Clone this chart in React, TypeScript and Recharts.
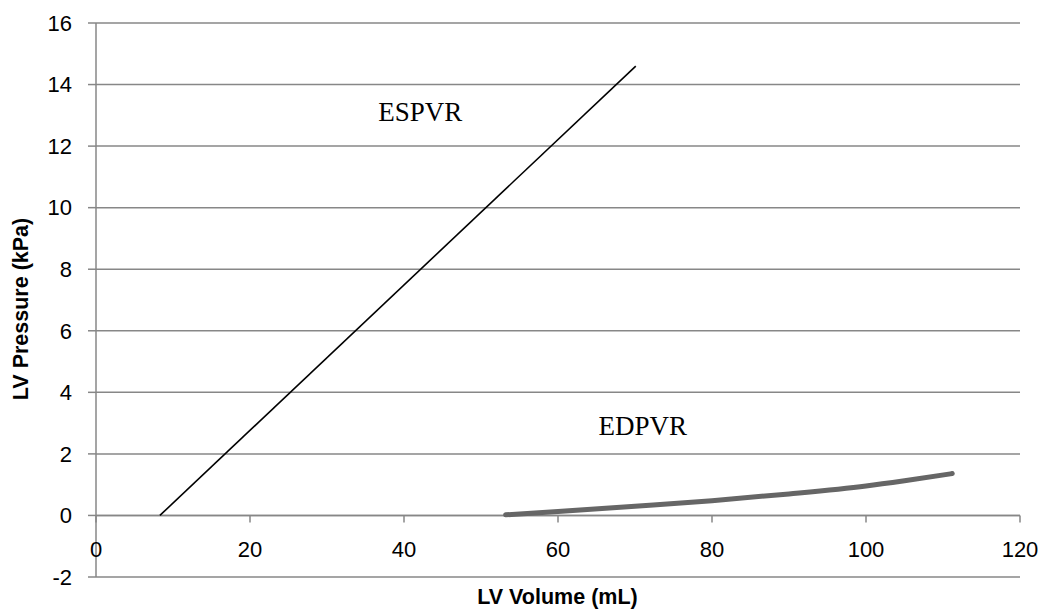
import React from "react";
import {
  LineChart,
  Line,
  XAxis,
  YAxis,
  CartesianGrid,
  ReferenceLine,
  ReferenceDot,
  Label,
} from "recharts";

// values
const volumeTicks = [0, 20, 40, 60, 80, 100, 120];
const pressureTicks = [-2, 0, 2, 4, 6, 8, 10, 12, 14, 16];

const espvrVolume = [8.3, 70.1];
const espvrPressure = [0, 14.6];

const edpvrVolume = [53.2, 60, 70, 80, 90, 100, 105, 111.2];
const edpvrPressure = [0.02, 0.13, 0.3, 0.48, 0.7, 0.96, 1.13, 1.36];

const espvr = espvrVolume.map((v, i) => ({ v, p: espvrPressure[i] }));
const edpvr = edpvrVolume.map((v, i) => ({ v, p: edpvrPressure[i] }));

const W = 1040;
const H = 602;
const MARGIN = { top: 15, right: 28, bottom: 32, left: 0 };
const Y_AXIS_W = 88;
const X_AXIS_H = 1;
const Y_MIN = -2;
const Y_MAX = 16;

const PLOT_H = H - MARGIN.top - MARGIN.bottom - X_AXIS_H;
// distance from the plot bottom (-2) up to the zero line where the x axis crosses
const ZERO_UP = (PLOT_H * (0 - Y_MIN)) / (Y_MAX - Y_MIN);

const GRID = "#878787";
const TICK_FONT = "'Liberation Sans', Arial, sans-serif";

function VolumeTick(props: any) {
  const { x, y, payload } = props;
  const y0 = y - ZERO_UP;
  return (
    <g>
      <line x1={x} x2={x} y1={y0} y2={y0 + 7} stroke={GRID} strokeWidth={1.5} />
      <text
        x={x}
        y={y0 + 34}
        textAnchor="middle"
        dominantBaseline="central"
        fontFamily={TICK_FONT}
        fontSize={22}
        fill="#000"
      >
        {payload.value}
      </text>
    </g>
  );
}

function XTitle(props: any) {
  const { viewBox } = props;
  return (
    <text
      x={viewBox.x + viewBox.width / 2 - 0.5}
      y={viewBox.y + 20}
      textAnchor="middle"
      dominantBaseline="central"
      fontFamily={TICK_FONT}
      fontWeight="bold"
      fontSize={21.5}
      fill="#000"
    >
      LV Volume (mL)
    </text>
  );
}

function YTitle(props: any) {
  const { viewBox } = props;
  const cx = 12.5;
  const cy = viewBox.y + viewBox.height / 2 + 9;
  return (
    <text
      x={cx}
      y={cy}
      transform={`rotate(-90 ${cx} ${cy})`}
      textAnchor="middle"
      dominantBaseline="central"
      fontFamily={TICK_FONT}
      fontWeight="bold"
      fontSize={21.5}
      fill="#000"
    >
      LV Pressure (kPa)
    </text>
  );
}

function SeriesLabel(props: any) {
  const { viewBox, text } = props;
  return (
    <text
      x={viewBox.x}
      y={viewBox.y}
      textAnchor="middle"
      dominantBaseline="central"
      fontFamily="'Liberation Serif', 'DejaVu Serif', serif"
      fontSize={27}
      fill="#000"
    >
      {text}
    </text>
  );
}

export default function App() {
  return (
    <div style={{ width: W, height: H }}>
      <LineChart width={W} height={H} margin={MARGIN}>
        <CartesianGrid vertical={false} stroke={GRID} strokeWidth={1.5} />
        <XAxis
          type="number"
          dataKey="v"
          domain={[0, 120]}
          ticks={volumeTicks}
          height={X_AXIS_H}
          axisLine={false}
          tickLine={false}
          tickSize={0}
          tickMargin={0}
          tick={<VolumeTick />}
          interval={0}
        >
          <Label content={<XTitle />} />
        </XAxis>
        <YAxis
          type="number"
          domain={[Y_MIN, Y_MAX]}
          ticks={pressureTicks}
          width={Y_AXIS_W}
          interval={0}
          axisLine={{ stroke: GRID, strokeWidth: 1.5 }}
          tickLine={{ stroke: GRID, strokeWidth: 1.5 }}
          tickSize={8}
          tickMargin={16}
          tick={{ fontFamily: TICK_FONT, fontSize: 22, fill: "#000" }}
        >
          <Label content={<YTitle />} />
        </YAxis>
        <ReferenceLine y={0} stroke={GRID} strokeWidth={1.5} />
        <Line
          data={espvr}
          dataKey="p"
          type="linear"
          stroke="#000"
          strokeWidth={1.6}
          dot={false}
          isAnimationActive={false}
        />
        <Line
          data={edpvr}
          dataKey="p"
          type="monotone"
          stroke="#666666"
          strokeWidth={5}
          strokeLinecap="round"
          dot={false}
          isAnimationActive={false}
        />
        <ReferenceDot
          x={42.1}
          y={13.1}
          r={0}
          fill="none"
          stroke="none"
          label={<SeriesLabel text="ESPVR" />}
        />
        <ReferenceDot
          x={71}
          y={2.92}
          r={0}
          fill="none"
          stroke="none"
          label={<SeriesLabel text="EDPVR" />}
        />
      </LineChart>
    </div>
  );
}
